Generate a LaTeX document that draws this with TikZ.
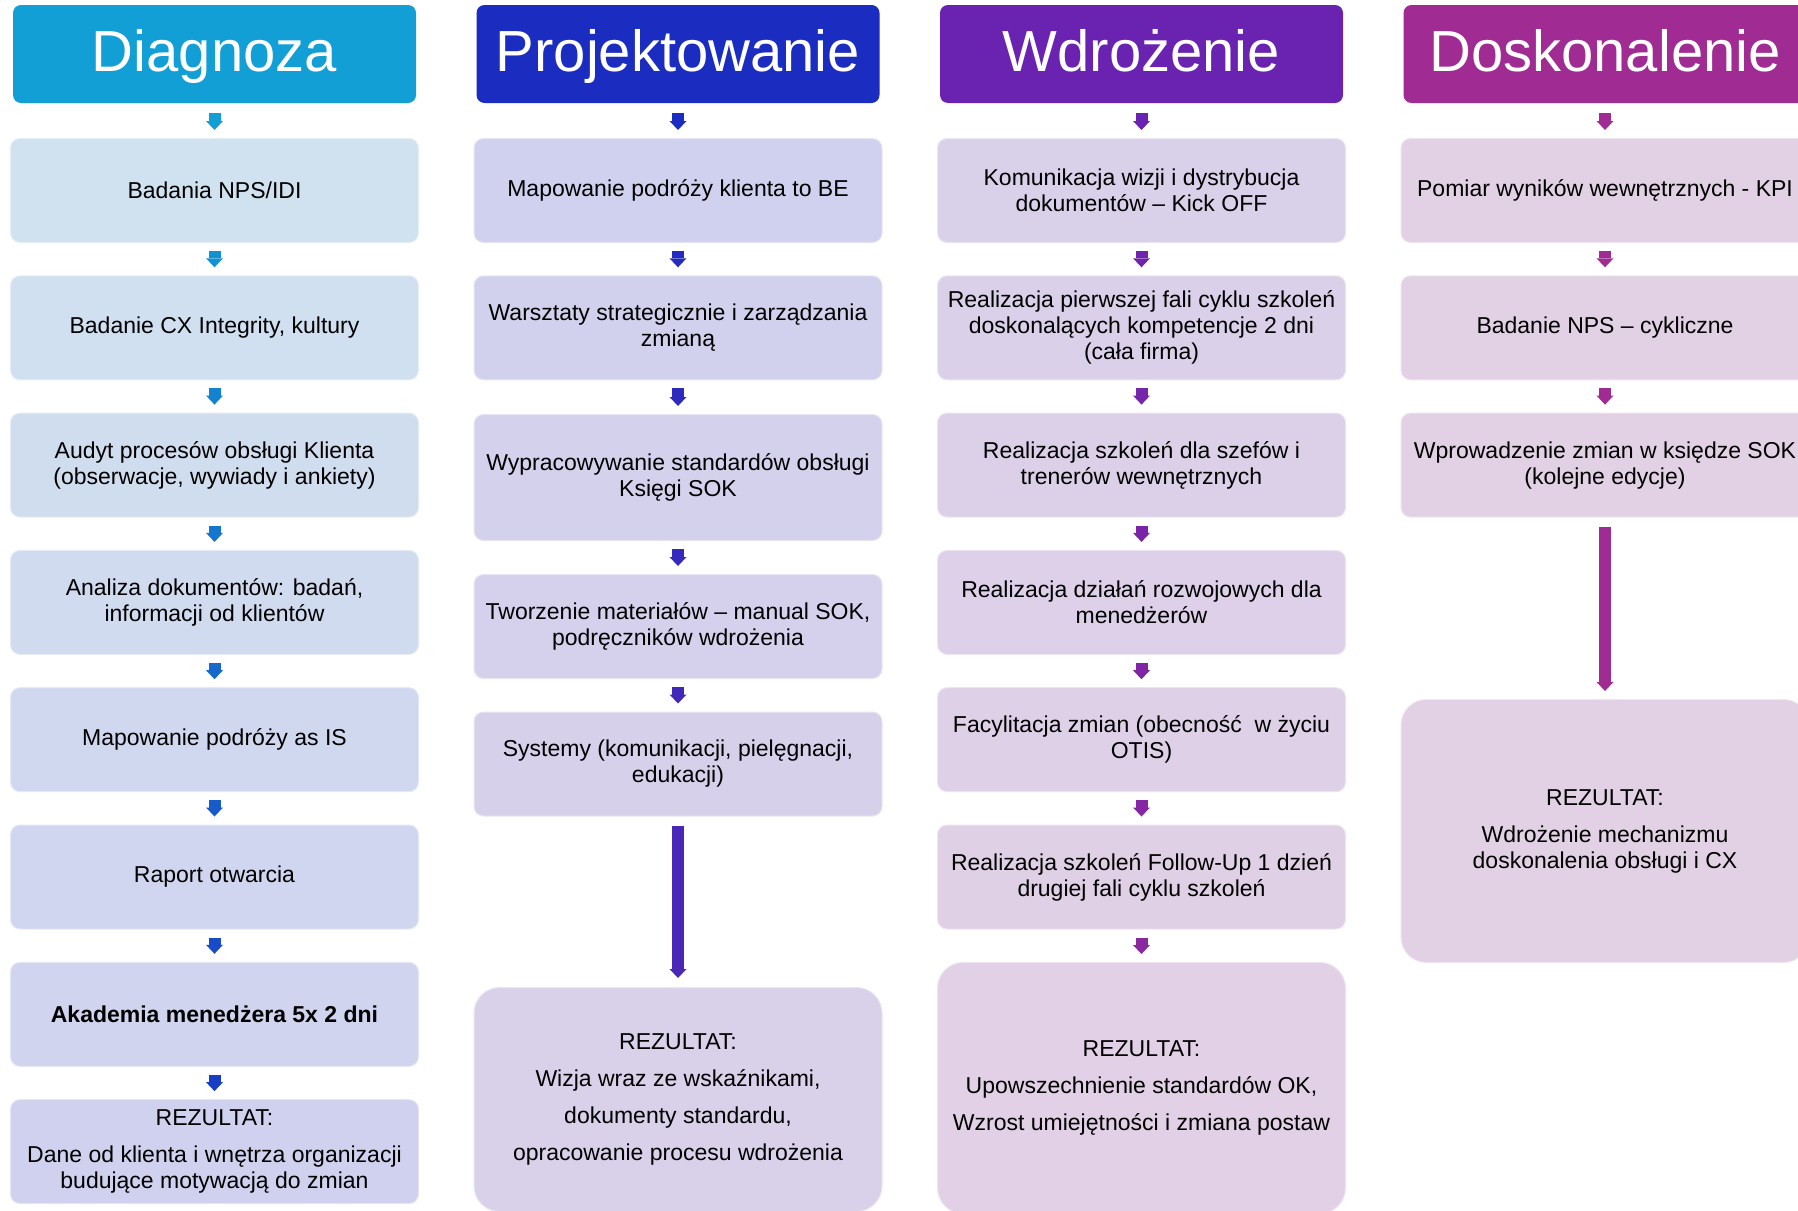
\documentclass[tikz,border=0pt]{standalone}
\usepackage{fontspec}
\setmainfont{Liberation Sans}
\usetikzlibrary{arrows.meta}

\definecolor{diagC}{HTML}{119FD6}
\definecolor{projC}{HTML}{1B2CC1}
\definecolor{wdrC}{HTML}{6A23B0}
\definecolor{doskC}{HTML}{A02B93}
\definecolor{boxA}{HTML}{D0E2F0}
\definecolor{boxB}{HTML}{D0D1EE}
\definecolor{boxC}{HTML}{D9D0EA}
\definecolor{boxD}{HTML}{E2D0E5}

\tikzset{
  naglowek/.style={rounded corners=4pt, minimum width=201.5pt, minimum height=49pt, inner sep=0pt,
    text=white, text height=21pt, text depth=4pt, font=\fontsize{29}{30}\selectfont},
  krok/.style={rounded corners=5pt, draw=white, draw opacity=0.45, line width=1pt,
    minimum width=204.5pt, minimum height=52.5pt, inner sep=0pt, align=center,
    font=\fontsize{11.5}{13}\selectfont},
  wynik/.style={krok, rounded corners=13pt},
  strzalka/.style={line width=6pt, -{Triangle[width=8.5pt,length=4.5pt,line width=0pt]},
    shorten <=3.5pt, shorten >=3.5pt},
}

\begin{document}
\begin{tikzpicture}[x=0.5pt,y=-0.5pt]
			%%%%% START %%%%%
			\useasboundingbox (0,0) rectangle (1798,1210);
			\clip (0,0) rectangle (1798,1210);
			\fill[white] (0,0) rectangle (1798,1210);
			
			\node[naglowek, fill=diagC] (diag) at (214.5,54) {Diagnoza};
			\node[naglowek, fill=projC] (proj) at (678,54) {Projektowanie};
			\node[naglowek, fill=wdrC] (wdr) at (1141.5,54) {Wdrożenie};
			\node[naglowek, fill=doskC] (dosk) at (1605,54) {Doskonalenie};
			
			% Diagnoza
			\node[krok, fill=boxA] (diag1) at (214.5,190.5) {Badania NPS/IDI};
			\node[krok, fill=boxB!14!boxA] (diag2) at (214.5,327.8) {Badanie CX Integrity, kultury};
			\node[krok, fill=boxB!28!boxA] (diag3) at (214.5,465.1) {Audyt procesów obsługi Klienta\\(obserwacje, wywiady i ankiety)};
			\node[krok, fill=boxB!42!boxA] (diag4) at (214.5,602.4) {Analiza dokumentów: badań,\\informacji od klientów};
			\node[krok, fill=boxB!56!boxA] (diag5) at (214.5,739.7) {Mapowanie podróży as IS};
			\node[krok, fill=boxB!70!boxA] (diag6) at (214.5,877) {Raport otwarcia};
			\node[krok, fill=boxB!85!boxA] (diag7) at (214.5,1014.3) {\textbf{Akademia menedżera 5x 2 dni}};
			\node[krok, fill=boxB] (diag8) at (214.5,1151.6) {REZULTAT:\\[5.5pt]Dane od klienta i wnętrza organizacji\\budujące motywacją do zmian};
			
			\draw[strzalka, shorten <=5pt, color=diagC] (diag) -- (diag1);
			\draw[strzalka, color=projC!12!diagC] (diag1) -- (diag2);
			\draw[strzalka, color=projC!24!diagC] (diag2) -- (diag3);
			\draw[strzalka, color=projC!36!diagC] (diag3) -- (diag4);
			\draw[strzalka, color=projC!48!diagC] (diag4) -- (diag5);
			\draw[strzalka, color=projC!60!diagC] (diag5) -- (diag6);
			\draw[strzalka, color=projC!72!diagC] (diag6) -- (diag7);
			\draw[strzalka, color=projC!84!diagC] (diag7) -- (diag8);
			
			% Projektowanie
			\node[krok, fill=boxB] (proj1) at (678,190.5) {Mapowanie podróży klienta to BE};
			\node[krok, fill=boxC!20!boxB] (proj2) at (678,327.8) {Warsztaty strategicznie i zarządzania\\zmianą};
			\node[krok, fill=boxC!40!boxB, minimum height=63.5pt] (proj3) at (678,477.5) {Wypracowywanie standardów obsługi\\Księgi SOK};
			\node[krok, fill=boxC!60!boxB] (proj4) at (678,626.5) {Tworzenie materiałów – manual SOK,\\podręczników wdrożenia};
			\node[krok, fill=boxC!80!boxB] (proj5) at (678,764) {Systemy (komunikacji, pielęgnacji,\\edukacji)};
			\node[wynik, fill=boxC, minimum height=112.5pt, font=\fontsize{11.5}{18.5}\selectfont] (proj6) at (678,1099.5) {REZULTAT:\\Wizja wraz ze wskaźnikami,\\dokumenty standardu,\\opracowanie procesu wdrożenia};
			
			\draw[strzalka, shorten <=5pt, color=projC] (proj) -- (proj1);
			\draw[strzalka, color=wdrC!12!projC] (proj1) -- (proj2);
			\draw[strzalka, color=wdrC!24!projC] (proj2) -- (proj3);
			\draw[strzalka, color=wdrC!36!projC] (proj3) -- (proj4);
			\draw[strzalka, color=wdrC!48!projC] (proj4) -- (proj5);
			\draw[strzalka, shorten <=4pt, shorten >=4pt, color=wdrC!60!projC] (proj5) -- (proj6);
			
			% Wdrozenie
			\node[krok, fill=boxC] (wdr1) at (1141.5,190.5) {Komunikacja wizji i dystrybucja\\dokumentów – Kick OFF};
			\node[krok, fill=boxD!15!boxC] (wdr2) at (1141.5,327.8) {Realizacja pierwszej fali cyklu szkoleń\\doskonalących kompetencje 2 dni\\(cała firma)};
			\node[krok, fill=boxD!30!boxC] (wdr3) at (1141.5,465.1) {Realizacja szkoleń dla szefów i\\trenerów wewnętrznych};
			\node[krok, fill=boxD!45!boxC] (wdr4) at (1141.5,602.4) {Realizacja działań rozwojowych dla\\menedżerów};
			\node[krok, fill=boxD!60!boxC] (wdr5) at (1141.5,739.7) {Facylitacja zmian (obecność\ \ w życiu\\OTIS)};
			\node[krok, fill=boxD!75!boxC] (wdr6) at (1141.5,877) {Realizacja szkoleń Follow-Up 1 dzień\\drugiej fali cyklu szkoleń};
			\node[wynik, fill=boxD!90!boxC, minimum height=126pt, font=\fontsize{11.5}{18.5}\selectfont] (wdr7) at (1141.5,1088) {REZULTAT:\\Upowszechnienie standardów OK,\\Wzrost umiejętności i zmiana postaw};
			
			\draw[strzalka, shorten <=5pt, color=wdrC] (wdr) -- (wdr1);
			\draw[strzalka, color=doskC!10!wdrC] (wdr1) -- (wdr2);
			\draw[strzalka, color=doskC!20!wdrC] (wdr2) -- (wdr3);
			\draw[strzalka, color=doskC!30!wdrC] (wdr3) -- (wdr4);
			\draw[strzalka, color=doskC!40!wdrC] (wdr4) -- (wdr5);
			\draw[strzalka, color=doskC!50!wdrC] (wdr5) -- (wdr6);
			\draw[strzalka, color=doskC!60!wdrC] (wdr6) -- (wdr7);
			
			% Doskonalenie
			\node[krok, fill=boxD] (dosk1) at (1605,190.5) {Pomiar wyników wewnętrznych - KPI};
			\node[krok, fill=boxD] (dosk2) at (1605,327.8) {Badanie NPS – cykliczne};
			\node[krok, fill=boxD] (dosk3) at (1605,465.1) {Wprowadzenie zmian w księdze SOK\\(kolejne edycje)};
			\node[wynik, fill=boxD, minimum height=132pt] (dosk4) at (1605,831) {REZULTAT:\\[5.5pt]Wdrożenie mechanizmu\\doskonalenia obsługi i CX};
			
			\draw[strzalka, shorten <=5pt, color=doskC] (dosk) -- (dosk1);
			\draw[strzalka, color=doskC] (dosk1) -- (dosk2);
			\draw[strzalka, color=doskC] (dosk2) -- (dosk3);
			\draw[strzalka, shorten <=4pt, color=doskC] (dosk3) -- (dosk4);
			%%%%% END %%%%%
\end{tikzpicture}
\end{document}
